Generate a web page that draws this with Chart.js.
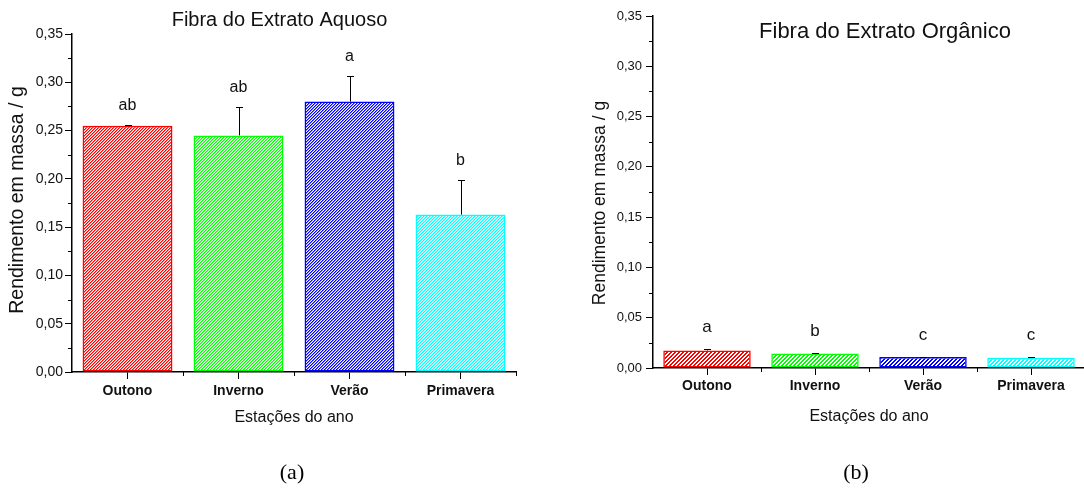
<!DOCTYPE html>
<html>
<head>
<meta charset="utf-8">
<script src="https://cdn.jsdelivr.net/npm/chart.js@4.4.1/dist/chart.umd.min.js"></script>
<style>
  html, body { margin: 0; padding: 0; background: #fff; overflow: hidden; width: 1084px; height: 497px; }
  #wrap { position: relative; width: 1084px; height: 497px; overflow: hidden; }
  .panel { position: absolute; top: 0; }
  #pa { left: 0; }
  #pb { left: 530px; }
  .cap { position: absolute; top: 472px; transform: translate(-50%, -50%);
         font-family: 'Liberation Serif', 'Times New Roman', serif; font-size: 22px; color: #000; }
</style>
</head>
<body>
<div id="wrap">
  <div class="panel" id="pa"><canvas id="ca" width="530" height="497"></canvas></div>
  <div class="panel" id="pb"><canvas id="cb" width="556" height="497"></canvas></div>
  <div class="cap" style="left:292px">(a)</div>
  <div class="cap" style="left:856px">(b)</div>
</div>
<script>
// Seasons on the x axis
const seasons = ['Outono', 'Inverno', 'Verão', 'Primavera'];

// Fibra do extrato aquoso: mean yield (g), upper error and significance group
const aquosoMeans  = [0.255, 0.245, 0.280, 0.163];
const aquosoErrors = [0.001, 0.029, 0.026, 0.036];
const aquosoGroups = ['ab', 'ab', 'a', 'b'];

// Fibra do extrato orgânico
const organicoMeans  = [0.0175, 0.0143, 0.0110, 0.0103];
const organicoErrors = [0.0012, 0.0004, 0.0003, 0.0003];
const organicoGroups = ['a', 'b', 'c', 'c'];

// Y axis tick values and their labels
const yTickValues = [0, 0.05, 0.10, 0.15, 0.20, 0.25, 0.30, 0.35];
const yTickLabels = ['0,00', '0,05', '0,10', '0,15', '0,20', '0,25', '0,30', '0,35'];

const seasonColors = ['#ff0000', '#00ff00', '#0000ff', '#00ffff'];
const FONT = "'Liberation Sans', Arial, Helvetica, sans-serif";
const INK = '#111';

function rgb(hex) {
  const n = parseInt(hex.slice(1), 16);
  return [(n >> 16) & 255, (n >> 8) & 255, n & 255];
}

// pixel-exact diagonal "/" hatch: a stripe of `width` pixels every `size` pixels
function hatch(color, size, width) {
  const c = document.createElement('canvas');
  c.width = c.height = size;
  const g = c.getContext('2d');
  const img = g.createImageData(size, size);
  const [r, gg, b] = rgb(color);
  for (let y = 0; y < size; y++) {
    for (let x = 0; x < size; x++) {
      const k = (x + y) % size;
      const i = (y * size + x) * 4;
      let a = 0;
      if (k < Math.floor(width)) a = 255;
      else if (k === Math.floor(width)) a = Math.round((width - Math.floor(width)) * 255);
      img.data[i] = r; img.data[i + 1] = gg; img.data[i + 2] = b; img.data[i + 3] = a;
    }
  }
  g.putImageData(img, 0, 0);
  return g.createPattern(c, 'repeat');
}

// error bars (upper half) and group letters over each bar
const barExtras = {
  id: 'barExtras',
  afterDatasetsDraw(chart, args, o) {
    const ctx = chart.ctx, y = chart.scales.y;
    const meta = chart.getDatasetMeta(0);
    const vals = chart.data.datasets[0].data;
    ctx.save();
    meta.data.forEach((bar, i) => {
      const x = Math.round(bar.x) + 0.5;
      const base = y.getPixelForValue(vals[i]);
      const top = Math.round(y.getPixelForValue(vals[i] + o.errors[i])) + 0.5;
      ctx.strokeStyle = '#000';
      ctx.lineWidth = 1;
      ctx.beginPath();
      ctx.moveTo(x, base); ctx.lineTo(x, top);
      ctx.moveTo(x - o.cap, top); ctx.lineTo(x + o.cap, top);
      ctx.stroke();
      ctx.fillStyle = INK;
      ctx.font = o.font;
      ctx.textAlign = 'center';
      ctx.textBaseline = 'alphabetic';
      ctx.fillText(o.groups[i], bar.x, top - o.gap);
    });
    ctx.restore();
  }
};

// minor ticks on y, category boundary ticks on x, the panel heading and the y title
const axisExtras = {
  id: 'axisExtras',
  afterDraw(chart, args, o) {
    const ctx = chart.ctx, a = chart.chartArea;
    const y = chart.scales.y, x = chart.scales.x;
    ctx.save();
    ctx.strokeStyle = '#000';
    ctx.lineWidth = 1;
    ctx.beginPath();
    for (let i = 0; i < yTickValues.length - 1; i++) {
      const p = Math.round(y.getPixelForValue((yTickValues[i] + yTickValues[i + 1]) / 2)) + 0.5;
      ctx.moveTo(a.left - o.minorLen, p); ctx.lineTo(a.left, p);
    }
    for (let i = 1; i <= seasons.length; i++) {
      const p = Math.round(x.getPixelForValue(i - 0.5)) + 0.5;
      ctx.moveTo(p, a.bottom); ctx.lineTo(p, a.bottom + o.minorLen);
    }
    ctx.stroke();
    ctx.fillStyle = INK;
    ctx.textAlign = 'center';
    ctx.textBaseline = 'middle';
    ctx.font = o.titleFont;
    ctx.fillText(o.title, o.titleX, o.titleY);
    ctx.translate(o.yTitleX, o.yTitleY);
    ctx.rotate(-Math.PI / 2);
    ctx.font = o.yTitleFont;
    ctx.fillText(o.yTitle, 0, 0);
    ctx.restore();
  }
};

function buildChart(id, p) {
  return new Chart(document.getElementById(id), {
    type: 'bar',
    data: {
      labels: seasons,
      datasets: [{
        data: p.means,
        backgroundColor: seasonColors.map(c => hatch(c, p.hatch, p.stripe)),
        borderColor: seasonColors,
        borderWidth: 1.5,
        borderSkipped: false,
        barPercentage: 0.81,
        categoryPercentage: 1
      }]
    },
    options: {
      responsive: false,
      animation: false,
      devicePixelRatio: 1,
      layout: { padding: { top: p.top, right: p.right, left: 0, bottom: p.bottom } },
      plugins: {
        legend: { display: false },
        tooltip: { enabled: false },
        barExtras: { errors: p.errors, groups: p.groups, gap: p.gap, cap: 3.5,
                     font: p.letterSize + 'px ' + FONT },
        axisExtras: { minorLen: 4, title: p.title, titleX: p.titleX, titleY: p.titleY,
                      titleFont: p.titleSize + 'px ' + FONT,
                      yTitle: 'Rendimento em massa / g', yTitleX: p.yTitleX, yTitleY: p.yTitleY,
                      yTitleFont: p.yTitleSize + 'px ' + FONT }
      },
      scales: {
        x: {
          grid: { display: true, drawOnChartArea: false, offset: false, tickLength: 7, color: '#000', tickWidth: 1 },
          border: { color: '#000', width: 1.5 },
          ticks: { color: INK, padding: p.xPad, font: { family: FONT, size: 14, weight: 'bold' } },
          title: { display: true, text: 'Estações do ano', color: INK,
                   font: { family: FONT, size: 16 }, padding: { top: 0, bottom: p.xTitlePad } },
          afterFit(s) { s.height = 60; }
        },
        y: {
          min: 0, max: 0.35,
          afterBuildTicks(s) { s.ticks = yTickValues.map(v => ({ value: v })); },
          ticks: { color: INK, padding: p.yPad, font: { family: FONT, size: p.yTickSize },
                   callback: (v, i) => yTickLabels[i] },
          grid: { display: true, drawOnChartArea: false, tickLength: 7, color: '#000', tickWidth: 1 },
          border: { color: '#000', width: 1.5 },
          afterFit(s) { s.width = p.yWidth; }
        }
      }
    },
    plugins: [barExtras, axisExtras]
  });
}

buildChart('ca', {
  means: aquosoMeans, errors: aquosoErrors, groups: aquosoGroups,
  hatch: 3, stripe: 1.5, gap: 16, letterSize: 16,
  title: 'Fibra do Extrato Aquoso', titleX: 279.5, titleY: 20, titleSize: 20,
  yTitleX: 17.5, yTitleY: 200, yTitleSize: 19.5,
  top: 34, right: 14, bottom: 65, xPad: 4, xTitlePad: 4.4,
  yPad: 2, yTickSize: 14, yWidth: 72
});

buildChart('cb', {
  means: organicoMeans, errors: organicoErrors, groups: organicoGroups,
  hatch: 4, stripe: 2, gap: 18, letterSize: 17,
  title: 'Fibra do Extrato Orgânico', titleX: 355, titleY: 32, titleSize: 22,
  yTitleX: 70, yTitleY: 203, yTitleSize: 17.5,
  top: 16, right: 1, bottom: 69, xPad: 3, xTitlePad: 1.4,
  yPad: 4, yTickSize: 13, yWidth: 123
});
</script>
</body>
</html>
